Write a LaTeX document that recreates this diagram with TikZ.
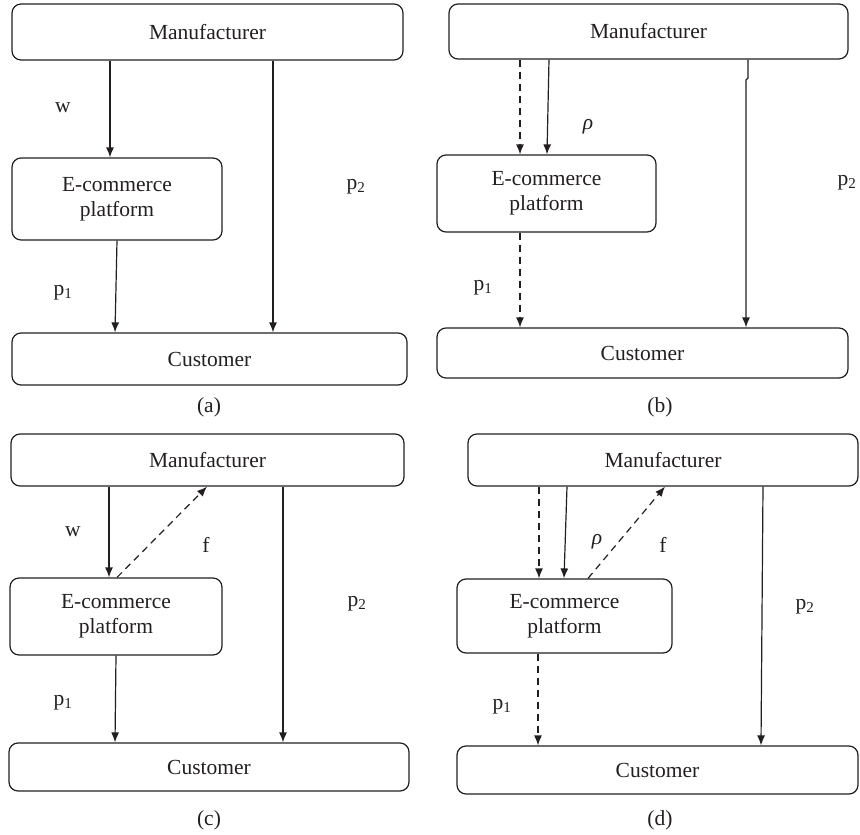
\documentclass[tikz,border=0pt]{standalone}
\usepackage{fontspec}
\setmainfont{Liberation Serif}
\usepackage{tikz}
\usetikzlibrary{arrows.meta}
\definecolor{ink}{RGB}{35,31,32}

\begin{document}
\begin{tikzpicture}[x=1pt,y=-1pt,line width=1.2pt,draw=ink,text=ink,
    every node/.style={font=\fontsize{21.5}{25}\selectfont},
    box/.style={draw=ink, rounded corners=9pt, align=center, inner sep=0pt},
    arr/.style={-{Latex[length=10pt,width=8pt]}},
    dashline/.style={dash pattern=on 7pt off 5pt},
    lbl/.style={inner sep=0pt}]
    \useasboundingbox (0,0) rectangle (860,835);

    % (a)
    \node[box, minimum width=391, minimum height=56] (manA) at (207.5,32) {Manufacturer};
    \node[box, minimum width=210, minimum height=82] (ecA) at (117,199) {E-commerce\\platform};
    \node[box, minimum width=395, minimum height=52] (cusA) at (209.5,359) {Customer};
    \draw[arr] (110,0 |- manA.south) -- (110,0 |- ecA.north);
    \draw[arr] (273,0 |- manA.south) -- (273,0 |- cusA.north);
    \draw[arr] (117,0 |- ecA.south) -- (115,0 |- cusA.north);
    \node[lbl] (wA) at (63,108) {w};
    \node[lbl] (ptwoA) at (356,187) {p\textsubscript{2}};
    \node[lbl] (poneA) at (63,293) {p\textsubscript{1}};
    \node[lbl] (capA) at (209,407) {(a)};

    % (b)
    \node[box, minimum width=399, minimum height=55] (manB) at (648.5,31.5) {Manufacturer};
    \node[box, minimum width=219, minimum height=77] (ecB) at (546.5,193.5) {E-commerce\\platform};
    \node[box, minimum width=411, minimum height=50] (cusB) at (642.5,353) {Customer};
    \draw[arr, dashline] (520,0 |- manB.south) -- (520,0 |- ecB.north);
    \draw[arr] (549,0 |- manB.south) -- (547,0 |- ecB.north);
    \draw[arr] (748,0 |- manB.south) -- (748,78) -- (746,80) -- (746,0 |- cusB.north);
    \draw[arr, dashline] (520,0 |- ecB.south) -- (520,0 |- cusB.north);
    \node[lbl] (rhoB) at (588,127) {\textit{ρ}};
    \node[lbl] (ptwoB) at (847,183) {p\textsubscript{2}};
    \node[lbl] (poneB) at (483,288) {p\textsubscript{1}};
    \node[lbl] (capB) at (660,407) {(b)};

    % (c)
    \node[box, minimum width=393, minimum height=52] (manC) at (207.5,460) {Manufacturer};
    \node[box, minimum width=212, minimum height=77] (ecC) at (116,616.5) {E-commerce\\platform};
    \node[box, minimum width=400, minimum height=48] (cusC) at (209,767) {Customer};
    \draw[arr] (109,0 |- manC.south) -- (109,0 |- ecC.north);
    \draw[arr, dashline] (117,0 |- ecC.north) -- (207,0 |- manC.south);
    \draw[arr] (283,0 |- manC.south) -- (283,0 |- cusC.north);
    \draw[arr] (116,0 |- ecC.south) -- (115,0 |- cusC.north);
    \node[lbl] (wC) at (73,532) {w};
    \node[lbl] (fC) at (206,545) {f};
    \node[lbl] (ptwoC) at (357,604) {p\textsubscript{2}};
    \node[lbl] (poneC) at (63,703) {p\textsubscript{1}};
    \node[lbl] (capC) at (209,820) {(c)};

    % (d)
    \node[box, minimum width=390, minimum height=52] (manD) at (663,460) {Manufacturer};
    \node[box, minimum width=215, minimum height=74] (ecD) at (564.5,616) {E-commerce\\platform};
    \node[box, minimum width=401, minimum height=48] (cusD) at (657.5,770) {Customer};
    \draw[arr, dashline] (539,0 |- manD.south) -- (539,0 |- ecD.north);
    \draw[arr] (567,0 |- manD.south) -- (564,0 |- ecD.north);
    \draw[arr, dashline] (588,0 |- ecD.north) -- (665,0 |- manD.south);
    \draw[arr] (763,0 |- manD.south) -- (761,0 |- cusD.north);
    \draw[arr, dashline] (538,0 |- ecD.south) -- (538,0 |- cusD.north);
    \node[lbl] (rhoD) at (597,542) {\textit{ρ}};
    \node[lbl] (fD) at (663,545) {f};
    \node[lbl] (ptwoD) at (805,607) {p\textsubscript{2}};
    \node[lbl] (poneD) at (502,707) {p\textsubscript{1}};
    \node[lbl] (capD) at (660,820) {(d)};
\end{tikzpicture}
\end{document}
